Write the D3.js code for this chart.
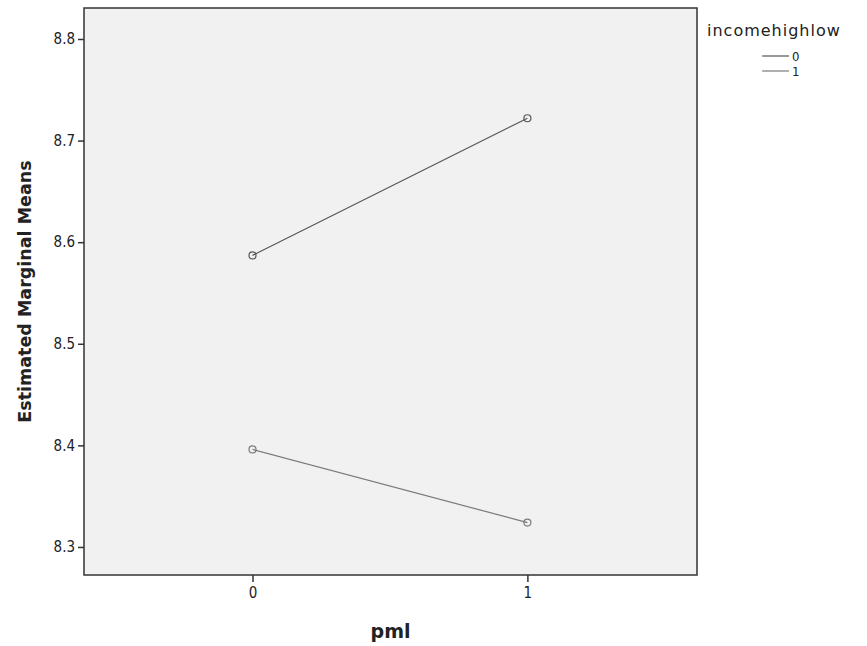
<!DOCTYPE html>
<html>
<head>
<meta charset="utf-8">
<script src="https://cdn.jsdelivr.net/npm/d3@7"></script>
<style>
body { margin: 0; background: #fff; }
svg text { font-family: "DejaVu Sans Condensed", "DejaVu Sans", sans-serif; fill: #222; }
</style>
</head>
<body>
<div id="chart"><svg class="diagram"></svg></div>
<script>
// pml levels on x, one line per incomehighlow group
var pmlLevels = [0, 1];
var groupNames = ["0", "1"];
var means0 = [8.587, 8.722];
var means1 = [8.396, 8.324];
var yTicks = [8.3, 8.4, 8.5, 8.6, 8.7, 8.8];
var lineColors = ["#555555", "#7a7a7a"];

var width = 867, height = 646;
var margin = {top: 8, right: 170, bottom: 71, left: 84};

var svg = d3.select("#chart svg").attr("width", width).attr("height", height);

var x = d3.scaleLinear().domain([-0.613, 1.617]).range([margin.left, width - margin.right]);
var y = d3.scaleLinear().domain([8.2724, 8.8305]).range([height - margin.bottom, margin.top]);

// plot background
svg.append("rect")
    .attr("x", x.range()[0]).attr("y", y.range()[1])
    .attr("width", x.range()[1] - x.range()[0])
    .attr("height", y.range()[0] - y.range()[1])
    .attr("fill", "#f1f1f1")
    .attr("stroke", "#333").attr("stroke-width", 1.5);

var yAxis = svg.append("g")
    .attr("transform", "translate(" + x.range()[0] + ",0)")
    .call(d3.axisLeft(y).tickValues(yTicks).tickFormat(d3.format(".1f")).tickSize(6).tickPadding(3));
yAxis.select(".domain").remove();
yAxis.selectAll("line").attr("stroke", "#333").attr("stroke-width", 1.5);
yAxis.selectAll("text").style("font-size", "15px").attr("fill", "#333");

var xAxis = svg.append("g")
    .attr("transform", "translate(0," + y.range()[0] + ")")
    .call(d3.axisBottom(x).tickValues(pmlLevels).tickFormat(d3.format("d")).tickSize(7).tickPadding(5));
xAxis.select(".domain").remove();
xAxis.selectAll("line").attr("stroke", "#333").attr("stroke-width", 1.5);
xAxis.selectAll("text").style("font-size", "15px").attr("fill", "#333");

var series = [means0, means1];
var line = d3.line().x(function(d, i){ return x(pmlLevels[i]); }).y(function(d){ return y(d); });

series.forEach(function(vals, k){
    svg.append("path")
        .attr("d", line(vals))
        .attr("fill", "none")
        .attr("stroke", lineColors[k])
        .attr("stroke-width", 1.2);
    svg.selectAll(".pt" + k).data(vals).enter().append("circle")
        .attr("class", "pt" + k)
        .attr("cx", function(d, i){ return x(pmlLevels[i]); })
        .attr("cy", function(d){ return y(d); })
        .attr("r", 3.5)
        .attr("fill", "none")
        .attr("stroke", lineColors[k])
        .attr("stroke-width", 1.2);
});

// axis titles
svg.append("text")
    .attr("transform", "translate(" + 31 + "," + ((y.range()[0] + y.range()[1]) / 2) + ") rotate(-90)")
    .attr("text-anchor", "middle")
    .style("font-family", "'DejaVu Sans', sans-serif")
    .style("font-size", "17.5px").style("font-weight", "bold")
    .text("Estimated Marginal Means");

svg.append("text")
    .attr("x", (x.range()[0] + x.range()[1]) / 2).attr("y", 638)
    .attr("text-anchor", "middle")
    .style("font-family", "'DejaVu Sans', sans-serif")
    .style("font-size", "19px").style("font-weight", "bold")
    .text("pml");

// legend
var legend = svg.append("g").attr("transform", "translate(707,0)");
legend.append("text").attr("x", 0).attr("y", 36)
    .style("font-family", "'DejaVu Sans', sans-serif")
    .style("font-size", "16px").style("letter-spacing", "1px")
    .text("incomehighlow");
groupNames.forEach(function(name, k){
    var ly = 56 + k * 15;
    legend.append("line")
        .attr("x1", 55).attr("x2", 82).attr("y1", ly).attr("y2", ly)
        .attr("stroke", lineColors[k]).attr("stroke-width", 1.2);
    legend.append("text").attr("x", 85).attr("y", ly + 5)
        .style("font-size", "13px").text(name);
});
</script>
</body>
</html>
